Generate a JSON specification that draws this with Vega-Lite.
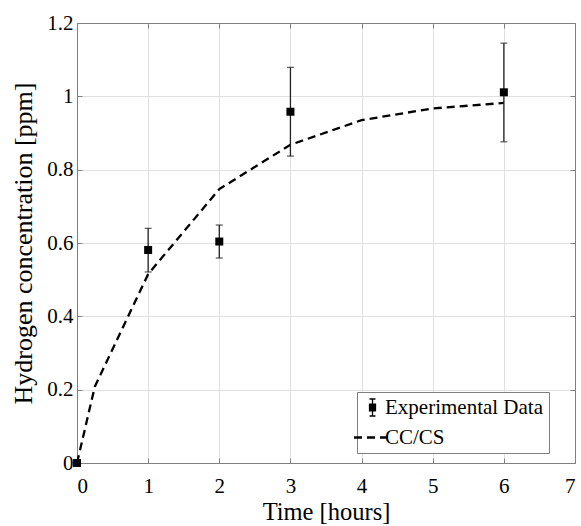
{
  "$schema": "https://vega.github.io/schema/vega-lite/v6.json",
  "autosize": {"type": "none"},
  "padding": {"left": 77, "top": 23, "right": 6, "bottom": 63},
  "width": 498,
  "height": 440,
  "background": "white",
  "config": {
    "font": "Liberation Serif",
    "view": {"stroke": null},
    "axis": {
      "labelFont": "Liberation Serif",
      "titleFont": "Liberation Serif",
      "labelFontSize": 21,
      "titleFontSize": 24,
      "titleFontWeight": "normal",
      "labelColor": "black",
      "titleColor": "black",
      "domainColor": "#808080",
      "tickColor": "#808080",
      "gridColor": "#e0e0e0",
      "tickSize": -5
    }
  },
  "datasets": {
    "exp": [
      {"time": 0, "conc": 0, "lo": 0, "hi": 0, "series": "Experimental Data"},
      {"time": 1, "conc": 0.581, "lo": 0.521, "hi": 0.64, "series": "Experimental Data"},
      {"time": 2, "conc": 0.604, "lo": 0.559, "hi": 0.649, "series": "Experimental Data"},
      {"time": 3, "conc": 0.958, "lo": 0.837, "hi": 1.079, "series": "Experimental Data"},
      {"time": 6, "conc": 1.011, "lo": 0.876, "hi": 1.145, "series": "Experimental Data"}
    ],
    "model": [
      {"time": 0, "conc": 0, "series": "CC/CS"},
      {"time": 0.25, "conc": 0.208, "series": "CC/CS"},
      {"time": 1, "conc": 0.515, "series": "CC/CS"},
      {"time": 2, "conc": 0.747, "series": "CC/CS"},
      {"time": 3, "conc": 0.868, "series": "CC/CS"},
      {"time": 4, "conc": 0.935, "series": "CC/CS"},
      {"time": 5, "conc": 0.967, "series": "CC/CS"},
      {"time": 6, "conc": 0.982, "series": "CC/CS"}
    ]
  },
  "resolve": {"axis": {"x": "independent", "y": "independent"}},
  "layer": [
    {
      "data": {"name": "model"},
      "mark": {"type": "line", "strokeDash": [8, 5], "strokeWidth": 2.3, "clip": true},
      "encoding": {
        "x": {"field": "time", "type": "quantitative", "scale": {"domain": [0, 7], "nice": false},
          "axis": {"orient": "bottom", "title": "Time [hours]", "values": [0,1,2,3,4,5,6,7], "format": "~g",
            "titleFontSize": 24.5, "labelPadding": 17, "titlePadding": 4, "grid": true}},
        "y": {"field": "conc", "type": "quantitative", "scale": {"domain": [0, 1.2], "nice": false},
          "axis": {"orient": "left", "title": "Hydrogen concentration [ppm]", "values": [0,0.2,0.4,0.6,0.8,1,1.2], "format": "~g",
            "titleFontSize": 26, "labelPadding": 9, "titlePadding": 10, "grid": true}},
        "color": {"field": "series", "type": "nominal",
          "scale": {"domain": ["Experimental Data", "CC/CS"], "range": ["black", "black"]},
          "legend": {
            "orient": "none", "legendX": 280, "legendY": 369,
            "title": null,
            "fillColor": "white", "strokeColor": "#808080", "padding": 5,
            "labelFont": "Liberation Serif", "labelFontSize": 21, "labelColor": "black", "labelLimit": 300,
            "labelOffset": 2, "rowPadding": 7, "symbolSize": 1369, "symbolType": "stroke",
            "encode": {
              "symbols": {"update": {
                "shape": {"signal": "datum.value == 'Experimental Data' ? 'M-0.35,-1H0.35M0,-1V1M-0.35,1H0.35M-0.35,-0.4H0.35V0.4H-0.35Z' : 'stroke'"},
                "size": {"signal": "datum.value == 'Experimental Data' ? 289 : 1369"},
                "strokeDash": {"signal": "datum.value == 'Experimental Data' ? [] : [8, 5]"},
                "strokeWidth": {"signal": "datum.value == 'Experimental Data' ? 1.3 : 2.3"},
                "fill": {"value": "black"},
                "stroke": {"value": "black"},
                "opacity": {"value": 1}
              }}
            }
          }}
      }
    },
    {
      "data": {"name": "exp"},
      "transform": [{"filter": "datum.hi > datum.lo"}],
      "mark": {"type": "rule", "color": "#222", "strokeWidth": 1.3},
      "encoding": {
        "x": {"field": "time", "type": "quantitative", "axis": {"orient": "top", "title": null, "labels": false, "values": [0,1,2,3,4,5,6,7], "grid": false, "domain": true}},
        "y": {"field": "lo", "type": "quantitative", "axis": {"orient": "right", "title": null, "labels": false, "values": [0,0.2,0.4,0.6,0.8,1,1.2], "grid": false, "domain": true}},
        "y2": {"field": "hi"}
      }
    },
    {
      "data": {"name": "exp"},
      "transform": [{"filter": "datum.hi > datum.lo"}, {"fold": ["lo", "hi"], "as": ["end", "val"]}],
      "mark": {"type": "tick", "orient": "horizontal", "size": 7, "thickness": 1.3, "color": "#222"},
      "encoding": {
        "x": {"field": "time", "type": "quantitative", "axis": null},
        "y": {"field": "val", "type": "quantitative", "axis": null}
      }
    },
    {
      "data": {"name": "exp"},
      "mark": {"type": "point", "shape": "square", "filled": true, "size": 64, "opacity": 1},
      "encoding": {
        "x": {"field": "time", "type": "quantitative", "axis": null},
        "y": {"field": "conc", "type": "quantitative", "axis": null},
        "color": {"field": "series", "type": "nominal"}
      }
    }
  ]
}
